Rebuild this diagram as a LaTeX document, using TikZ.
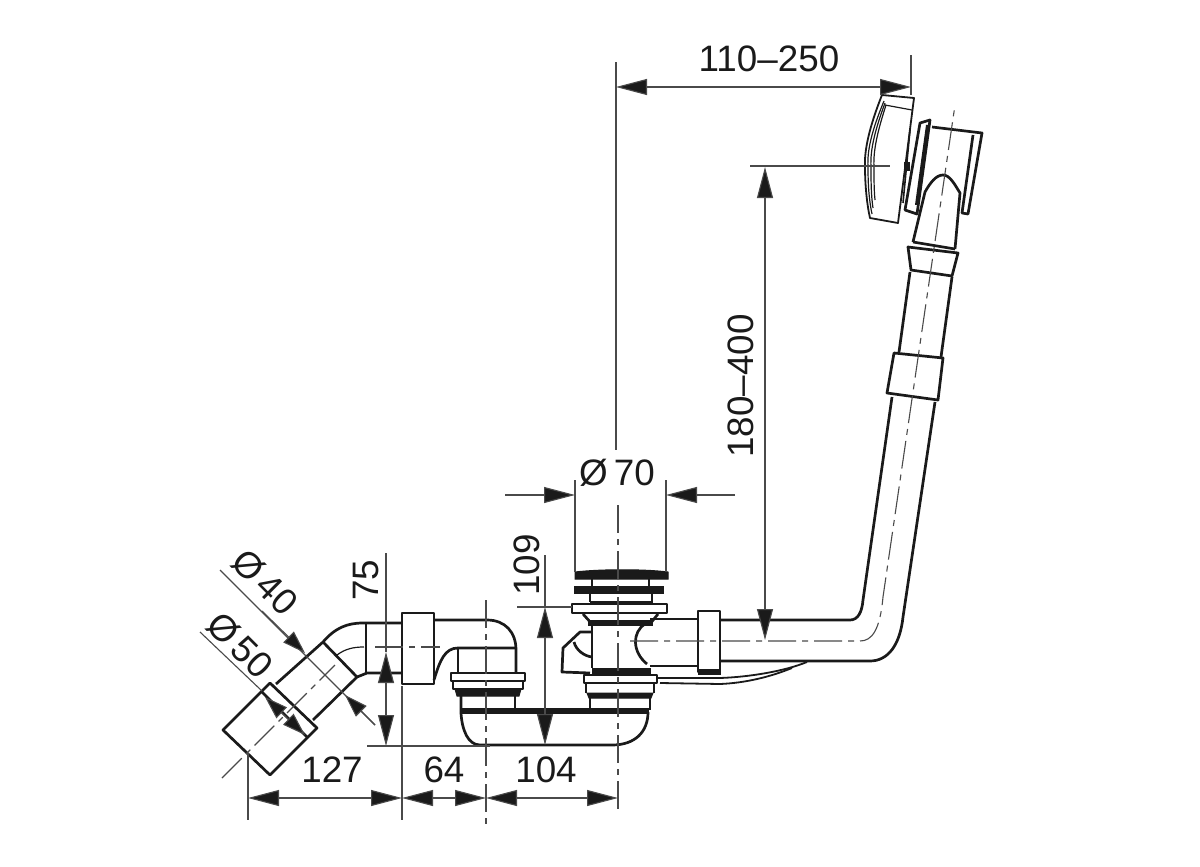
\documentclass[tikz,border=0pt]{standalone}
\usepackage{fontspec}
\setmainfont{Liberation Sans}
\usetikzlibrary{arrows.meta}
\definecolor{inkline}{HTML}{1A1A1A}
\definecolor{dimline}{HTML}{4A4A4A}
\begin{document}
\begin{tikzpicture}[
    x=0.5pt,y=-0.5pt,
    part/.style={%
      draw=inkline,
      line width=1.35pt,
      line join=round,
    },
    fine/.style={%
      draw=inkline,
      line width=0.6pt,
    },
    band/.style={%
      fill=inkline,
      draw=inkline,
      line width=0.5pt,
    },
    dim/.style={%
      draw=dimline,
      line width=0.55pt,
    },
    dimarrow/.style={%
      dim,
      {Triangle[length=15.5pt,width=8pt,fill=inkline]}-{Triangle[length=15.5pt,width=8pt,fill=inkline]},
    },
    dimto/.style={%
      dim,
      -{Triangle[length=15.5pt,width=8pt,fill=inkline]},
    },
    smallto/.style={%
      dim,
      -{Triangle[length=11.5pt,width=7.5pt,fill=inkline]},
    },
    smallarrow/.style={%
      dim,
      {Triangle[length=11.5pt,width=7.5pt,fill=inkline]}-{Triangle[length=11.5pt,width=7.5pt,fill=inkline]},
    },
    centre/.style={%
      draw=dimline,
      line width=0.55pt,
      dash pattern=on 14pt off 3pt on 3pt off 3pt,
    },
    label/.style={%
      font=\fontsize{18.4}{18.4}\selectfont,
      text=inkline,
      inner sep=0pt,
    },
  ]
    \useasboundingbox (0,0) rectangle (1200,867);

    % waste outlet, 45 degree part
    \draw [part] (223,730) -- (270,683) -- (317,728) -- (270,775) -- cycle;
    \draw [part] (262,692) -- (308,738);
    \draw [part] (276,684) -- (323,642) -- (357,677) -- (313,720);
    \draw [part] (323,642) .. controls (335,628) and (347,623) .. (363,623) -- (402,623);
    \draw [part] (357,677) -- (367,673) -- (402,673);
    \draw [part] (366,623) -- (366,673);
    \draw [fine] (337,655) .. controls (345,649) and (353,647) .. (364,647);
    \draw [part] (402,613) rectangle (434,684);

    % trap, left leg
    \draw [part] (434,620) -- (487,620) .. controls (505,620) and (516,632) .. (516,650) -- (516,673);
    \draw [part] (434,680) .. controls (440,660) and (445,648) .. (458,648) -- (516,648);
    \draw [part] (458,648) -- (458,673);
    \draw [part] (451,673) -- (525,673) -- (525,681) -- (451,681) -- cycle;
    \draw [part] (453,681) -- (453,689) -- (523,689) -- (523,681);
    \path [band] (455,689) -- (521,689) -- (519,696) -- (457,696) -- cycle;
    \draw [part] (461,696) -- (461,713) .. controls (462,730) and (468,745) .. (480,745) -- (612,745)
      .. controls (635,745) and (648,732) .. (648,712);
    \draw [part] (515,696) -- (515,710);
    \path [band] (461,708) rectangle (648,713);

    % overflow seat and body
    \path [band] (575,572) .. controls (600,569) and (645,569) .. (668,572) -- (668,579) -- (575,579) -- cycle;
    \draw [part] (592,579) -- (592,586) (649,579) -- (649,586);
    \path [band] (574,586) rectangle (663,593);
    \draw [part] (590,593) -- (590,602) (652,593) -- (652,602);
    \path [band] (590,601) rectangle (652,604);
    \draw [part] (572,604) rectangle (667,613);
    \draw [part] (583,614) -- (592,624) (658,614) -- (650,624);
    \path [band] (588,620) rectangle (652,625);
    \draw [part] (592,625) -- (592,668);
    \draw [part] (645,624) .. controls (632,632) and (632,652) .. (647,664);
    \draw [part] (592,632) -- (580,632) -- (563,648) -- (562,672) -- (590,673);
    \draw [part] (574,642) .. controls (576,650) and (584,656) .. (592,657);
    \path [band] (592,668) rectangle (650,673);
    \draw [part] (584,675) rectangle (657,683);
    \draw [part] (586,683) -- (586,693) (654,683) -- (654,693);
    \path [band] (587,693) -- (653,693) -- (651,698) -- (589,698) -- cycle;
    \draw [part] (590,698) -- (590,710);
    \draw [part] (650,698) -- (650,710);

    % long overflow tube
    \draw [part] (650,619) -- (697,619);
    \draw [part] (650,666) -- (697,666);
    \draw [part] (698,611) rectangle (720,672);
    \path [band] (698,669) rectangle (720,674);
    \draw [part] (720,620) -- (850,620) .. controls (858,620) and (862,612) .. (863,600) -- (892,397);
    \draw [part] (720,661) -- (870,661) .. controls (888,661) and (900,645) .. (903,617) -- (935,402);
    \draw [fine,line width=0.9pt] (657,678) -- (720,678) .. controls (750,677) and (785,671) .. (807,662);
    \draw [fine,line width=0.9pt] (660,683) -- (720,684) .. controls (745,683) and (770,677) .. (792,668);
    \draw [part] (894,353) -- (943,358) -- (938,400) -- (887,393) -- cycle;
    \draw [part] (899,352) -- (910,272);
    \draw [part] (941,357) -- (952,277);
    \draw [part] (908,247) -- (958,253) -- (952,276) -- (911,270) -- cycle;
    \draw [part] (913,242) -- (955,249);
    \draw [part] (913,242) -- (925,192) .. controls (930,183) and (936,175) .. (943,175)
      .. controls (950,175) and (955,185) .. (960,193) -- (955,249);

    % overflow head
    \draw [part,line width=0.9pt] (882,95) .. controls (870,125) and (864,150) .. (865,167)
      .. controls (865,185) and (867,205) .. (870,218) -- (898,223) -- (914,98) -- cycle;
    \draw [fine] (885,105) -- (912,110);
    \draw [fine] (884,101) .. controls (872,130) and (867,150) .. (868,167) .. controls (868,185) and (869,200) .. (872,214);
    \draw [fine] (885,103) .. controls (875,130) and (870,150) .. (871,167) .. controls (871,180) and (871,195) .. (873,208);
    \draw [fine] (886,105) .. controls (878,130) and (873,150) .. (874,167) .. controls (874,180) and (874,190) .. (875,200);
    \draw [part,line width=0.8pt] (910,130) -- (903,203);
    \path [band] (904,162) rectangle (909,170);
    \draw [part] (920,123) -- (930,120) -- (917,214) -- (905,210) -- cycle;
    \draw [part,line width=2pt] (928,125) -- (917,205);
    \draw [part] (932,127) -- (982,133) -- (968,214) -- (962,213) -- (973,135);

    % centre lines
    \draw [centre] (630,641) -- (860,641) .. controls (872,641) and (880,630) .. (883,597) -- (955,105);
    \draw [centre] (618,505) -- (618,815);
    \draw [centre] (486,600) -- (486,825);
    \draw [centre] (222,778) -- (335,665);
    \draw [centre] (375,647) -- (440,647);

    % extension lines
    \draw [dim] (248,753) -- (248,820);
    \draw [dim] (402,686) -- (402,820);
    \draw [dim] (367,746) -- (490,746);
    \draw [dim] (517,607) -- (572,607);
    \draw [dim] (575,480) -- (575,572);
    \draw [dim] (666,480) -- (666,572);
    \draw [dim] (616,62) -- (616,450);
    \draw [dim] (911,55) -- (911,95);
    \draw [dim] (750,166) -- (890,166);
    \draw [dim] (200,632) -- (262,691);

    % dimensions
    \draw [dimarrow] (248,798) -- (402,798);
    \draw [dimarrow] (402,798) -- (486,798);
    \draw [dimarrow] (486,798) -- (618,798);
    \draw [dimarrow] (386,652) -- (386,746);
    \draw [dim] (386,553) -- (386,652);
    \draw [dimarrow] (545,607) -- (545,745);
    \draw [dim] (545,555) -- (545,607);
    \draw [dimto] (505,495) -- (575,495);
    \draw [dimto] (735,495) -- (666,495);
    \draw [dimarrow] (616,87) -- (911,87);
    \draw [dimarrow] (765,167) -- (765,640);
    \draw [dim] (220,570) -- (375,725);
    \draw [smallto] (262,611) -- (305,653);
    \draw [smallto] (375,725) -- (345,695);
    \draw [smallarrow] (265,697) -- (305,735);

    % labels
    \node [label] (wide) at (769,59) {110–250};
    \node [label] (high) at (741,386) [rotate=90] {180–400};
    \node [label] (seat) at (617,473) {Ø\,70};
    \node [label] (rise) at (527,565) [rotate=90] {109};
    \node [label] (drop) at (366,580) [rotate=90] {75};
    \node [label] (pipeA) at (265,582) [rotate=-45] {Ø\,40};
    \node [label] (pipeB) at (240,645) [rotate=-45] {Ø\,50};
    \node [label] (runA) at (332,770) {127};
    \node [label] (runB) at (444,770) {64};
    \node [label] (runC) at (546,770) {104};

\end{tikzpicture}
\end{document}
